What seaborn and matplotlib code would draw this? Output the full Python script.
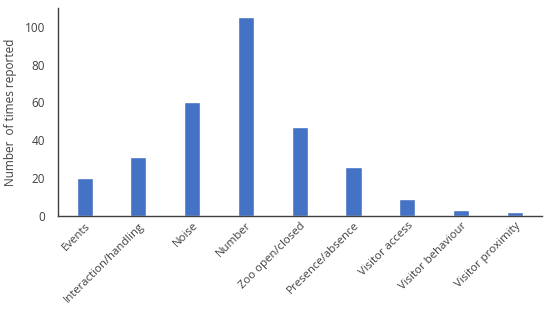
import matplotlib
matplotlib.use('Agg')
import matplotlib.pyplot as plt
import seaborn as sns
import pandas as pd

categories = ["Events", "Interaction/handling", "Noise", "Number", "Zoo open/closed",
              "Presence/absence", "Visitor access", "Visitor behaviour", "Visitor proximity"]
counts = [20, 31, 60, 105, 47, 26, 9, 3, 2]
y_ticks = [0, 20, 40, 60, 80, 100]

df = pd.DataFrame({"category": categories, "count": counts})

sns.set_style("white")
plt.rcParams['font.family'] = ['Open Sans', 'DejaVu Sans']

fig = plt.figure(figsize=(5.5, 3.11), dpi=100)
ax = fig.add_axes([0.105, 0.305, 0.88, 0.67])

sns.barplot(data=df, x="category", y="count", color="#4472C4", saturation=1,
            width=0.3, ax=ax)

ax.set_ylim(0, 110)
ax.set_xlim(-0.5, len(categories) - 0.5)
ax.set_yticks(y_ticks)
ax.tick_params(axis='y', labelsize=8.5, colors='#404040', length=0, pad=9)
ax.tick_params(axis='x', labelsize=8.2, colors='#404040', length=0, pad=3)
plt.setp(ax.get_xticklabels(), rotation=45, ha='right', rotation_mode='anchor')
ax.set_xlabel("")
ax.set_ylabel("Number  of times reported", fontsize=8.5, color='#404040', labelpad=6)

sns.despine(ax=ax)
for side in ["left", "bottom"]:
    ax.spines[side].set_color("#404040")
    ax.spines[side].set_linewidth(1.0)

fig.savefig("out.png", dpi=100)
